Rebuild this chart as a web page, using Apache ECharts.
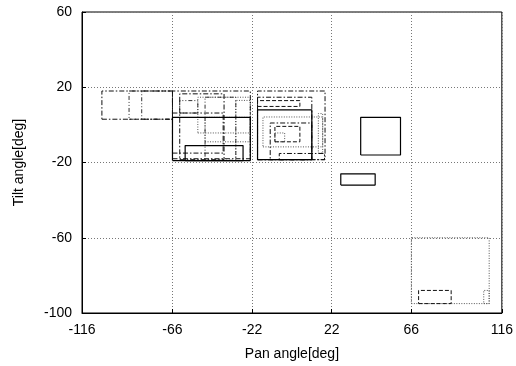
<!DOCTYPE html>
<html><head><meta charset="utf-8">
<script src="https://cdn.jsdelivr.net/npm/echarts@6/dist/echarts.min.js"></script>
<style>html,body{margin:0;padding:0;background:#fff}#c{width:516px;height:366px}</style>
</head><body><div id="c"></div>
<script>
// Axis ticks
const panTicks = [-116, -66, -22, 22, 66, 116];
const tiltTicks = [-100, -60, -20, 20, 60];

// Each box: [panFrom, panTo, tiltFrom, tiltTo] in degrees
const solidBoxes = [
  [-66, -23, -19, 4],
  [-59, -27, -19, -11],
  [-19, 11, -18.5, 8],
  [38, 60, -16, 4],
  [27, 46, -32, -26]
];
const dashedBoxes = [
  [-19, 4.4, 9.8, 12.9],
  [-9.4, 4.4, -9, -0.8],
  [70, 88, -95, -88]
];
const dottedBoxes = [
  [-52, -23, -4.3, 14.7],
  [-31, -23, -19, 13],
  [-48, -23, -9, 4],
  [-16, 17, -11.7, 4.2],
  [-9.4, -4, -9, -4.3],
  [14.6, 17, -15, 6],
  [66, 109, -95, -60],
  [106, 109, -95, -88]
];
const dashDotBoxes = [
  [-105, -66, 3, 18],
  [-66, -23, -18, 18],
  [-62, -37.5, -18.5, 16.5],
  [-66, -38, -15, 6.3],
  [-19, 18.3, -18.5, 18],
  [-19, 11, -18.5, 14.7],
  [-12, 11, -18.5, 1],
  [-7, 18, -18.5, -15.2]
];
const dashDotDotBoxes = [
  [-90, -66, 3, 18],
  [-83, -66, 3, 18],
  [-62, -52, 6.3, 12.9],
  [-48, -31, -18.8, 14.7]
];

const styles = {
  solid: { type: 'solid', color: '#000', width: 1.2 },
  dashed: { type: [4, 2], color: '#111', width: 1 },
  dotted: { type: [1, 1.5], color: '#555', width: 1 },
  dashDot: { type: [5, 2, 1.5, 2], color: '#111', width: 1 },
  dashDotDot: { type: [4, 2, 1, 2, 1, 2], color: '#333', width: 1 }
};

const series = [];
function addBoxes(list, styleKey) {
  list.forEach(b => {
    const [x1, x2, y1, y2] = b;
    series.push({
      type: 'line', silent: true, animation: false,
      symbol: 'none', showSymbol: false,
      lineStyle: styles[styleKey],
      data: [[x1, y1], [x2, y1], [x2, y2], [x1, y2], [x1, y1]]
    });
  });
}
addBoxes(dottedBoxes, 'dotted');
addBoxes(dashDotDotBoxes, 'dashDotDot');
addBoxes(dashDotBoxes, 'dashDot');
addBoxes(dashedBoxes, 'dashed');
addBoxes(solidBoxes, 'solid');

const font = 'Liberation Sans, Arial, sans-serif';
const splitLine = { show: true, lineStyle: { color: '#777', type: [1, 2], width: 1 } };
const chart = echarts.init(document.getElementById('c'), null, { renderer: 'canvas' });
chart.setOption({
  animation: false,
  backgroundColor: '#fff',
  grid: { left: 82, right: 14, top: 12, bottom: 52, show: true, borderColor: '#000', borderWidth: 1 },
  xAxis: [{
    type: 'value', min: -116, max: 116, position: 'bottom',
    name: 'Pan angle[deg]', nameLocation: 'middle', nameGap: 34,
    nameTextStyle: { fontFamily: font, fontSize: 14, color: '#000' },
    axisLine: { show: true, onZero: false, lineStyle: { color: '#000', width: 1 } },
    axisTick: { show: true, inside: true, length: 4, customValues: panTicks, lineStyle: { color: '#000' } },
    axisLabel: { customValues: panTicks, fontFamily: font, fontSize: 14, color: '#000', margin: 10 },
    splitLine: splitLine
  }],
  yAxis: [{
    type: 'value', min: -100, max: 60, position: 'left',
    name: 'Tilt angle[deg]', nameLocation: 'middle', nameGap: 56, nameRotate: 90,
    nameTextStyle: { fontFamily: font, fontSize: 14, color: '#000' },
    axisLine: { show: true, onZero: false, lineStyle: { color: '#000', width: 1 } },
    axisTick: { show: true, inside: true, length: 4, customValues: tiltTicks, lineStyle: { color: '#000' } },
    axisLabel: { customValues: tiltTicks, fontFamily: font, fontSize: 14, color: '#000', margin: 10 },
    splitLine: splitLine
  }],
  series: series
});
</script>
</body></html>
